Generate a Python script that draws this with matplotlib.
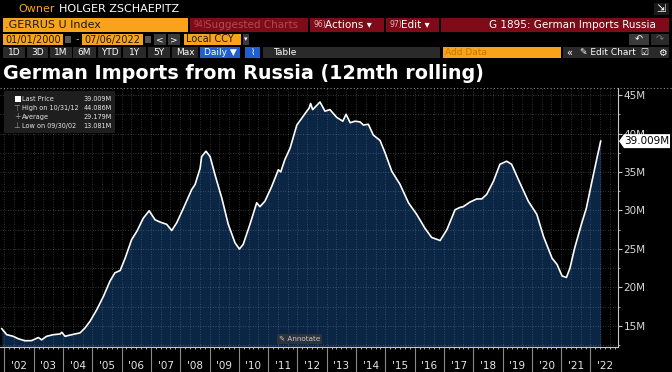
import matplotlib
matplotlib.use('Agg')
import matplotlib.pyplot as plt
from matplotlib.patches import Rectangle, Polygon
from matplotlib.lines import Line2D
from matplotlib.transforms import blended_transform_factory
import numpy as np

# ---------------- data (12-month rolling German imports from Russia, EUR M) -------------
dates = [2001.91, 2002.08, 2002.30, 2002.47, 2002.70, 2002.93, 2003.16, 2003.27, 2003.44,
         2003.67, 2003.90, 2003.96, 2004.07, 2004.30, 2004.58, 2004.75, 2004.92, 2005.15,
         2005.38, 2005.60, 2005.77, 2005.95, 2006.12, 2006.34, 2006.52, 2006.74, 2006.94,
         2007.14, 2007.31, 2007.54, 2007.71, 2007.88, 2008.11, 2008.39, 2008.51, 2008.68,
         2008.73, 2008.88, 2009.02, 2009.19, 2009.42, 2009.64, 2009.87, 2010.02, 2010.15,
         2010.38, 2010.61, 2010.72, 2010.89, 2011.12, 2011.35, 2011.43, 2011.57, 2011.75,
         2011.98, 2012.15, 2012.32, 2012.40, 2012.45, 2012.52, 2012.77, 2012.94, 2013.11,
         2013.34, 2013.55, 2013.66, 2013.80, 2013.97, 2014.14, 2014.25, 2014.42, 2014.59,
         2014.82, 2014.99, 2015.22, 2015.50, 2015.79, 2016.07, 2016.35, 2016.58, 2016.87,
         2017.10, 2017.38, 2017.55, 2017.66, 2017.89, 2018.12, 2018.29, 2018.46, 2018.69,
         2018.91, 2019.14, 2019.31, 2019.59, 2019.88, 2020.17, 2020.40, 2020.69, 2020.86,
         2021.03, 2021.18, 2021.30, 2021.46, 2021.69, 2021.86, 2022.03, 2022.21, 2022.35]
values = [14.65, 13.87, 13.66, 13.35, 13.08, 13.10, 13.50, 13.20, 13.66,
          13.87, 13.96, 14.18, 13.66, 13.87, 14.10, 14.74, 15.60, 17.10,
          18.85, 20.80, 21.90, 22.20, 23.80, 26.20, 27.30, 29.00, 29.97,
          28.80, 28.50, 28.20, 27.40, 28.40, 30.30, 32.70, 33.40, 35.50,
          37.00, 37.70, 37.00, 34.60, 31.60, 28.20, 25.80, 25.00, 25.60,
          28.20, 31.00, 30.50, 31.20, 33.10, 35.30, 35.00, 36.60, 38.10,
          41.10, 42.00, 42.90, 43.30, 43.90, 43.10, 44.09, 42.90, 43.10,
          42.10, 41.60, 42.50, 41.40, 41.60, 41.50, 41.10, 41.20, 39.80,
          39.10, 37.50, 35.10, 33.40, 31.00, 29.50, 27.70, 26.50, 26.10,
          27.50, 30.10, 30.40, 30.50, 31.10, 31.50, 31.50, 32.10, 33.80,
          36.00, 36.40, 36.00, 33.60, 31.20, 29.50, 26.60, 23.80, 23.00,
          21.50, 21.30, 22.50, 25.10, 28.20, 30.30, 33.40, 36.60, 39.01]

y_ticks = [15, 20, 25, 30, 35, 40, 45]
y_tick_labels = ["15M", "20M", "25M", "30M", "35M", "40M", "45M"]
years = list(range(2002, 2023))
year_labels = ["'02", "'03", "'04", "'05", "'06", "'07", "'08", "'09", "'10", "'11", "'12",
               "'13", "'14", "'15", "'16", "'17", "'18", "'19", "'20", "'21", "'22"]

legend_names = ["Last Price", "High on 10/31/12", "Average", "Low on 09/30/02"]
legend_values = ["39.009M", "44.086M", "29.179M", "13.081M"]
last_price_label = "39.009M"
last_price = 39.009

# ---------------- figure ----------------
W, H = 672, 372
fig = plt.figure(figsize=(W / 100, H / 100), dpi=100, facecolor='black')
plt.rcParams['font.family'] = ['DejaVu Sans']


def fx(x):
    return x / W


def fy(y):
    return 1 - y / H


def box(x0, y0, x1, y1, color, z=1, **kw):
    fig.patches.append(Rectangle((fx(x0), fy(y1)), (x1 - x0) / W, (y1 - y0) / H,
                                 transform=fig.transFigure, facecolor=color,
                                 edgecolor='none', zorder=z, **kw))


def txt(x, y, s, color='white', size=7.5, ha='left', va='center', weight='normal', z=5):
    fig.text(fx(x), fy(y), s, color=color, fontsize=size, ha=ha, va=va,
             fontweight=weight, zorder=z)


ORANGE = '#f9a31a'
RED = '#7e0b18'
GREY = '#2a2a2a'

# ---- header row 1
txt(18, 9, "Owner", color=ORANGE, size=8)
txt(59, 9, "HOLGER ZSCHAEPITZ", color='white', size=8)
box(654, 3, 669, 15, '#1a1a1a')
txt(661, 9, "⇲", color='white', size=8, ha='center')

# ---- header row 2
box(3, 18, 188, 32, ORANGE)
txt(5, 25, ".GERRUS U Index", color='#1a1a1a', size=8)
box(190, 18, 308, 32, RED)
txt(193, 25, "94)", color='#b04a55', size=5.5)
txt(205, 25, "Suggested Charts", color='#b04a55', size=7.5)
box(310, 18, 384, 32, RED)
txt(313, 25, "96)", color='#e0b0b5', size=5.5)
txt(325, 25, "Actions ▾", color='white', size=7.5)
box(386, 18, 439, 32, RED)
txt(389, 25, "97)", color='#e0b0b5', size=5.5)
txt(401, 25, "Edit ▾", color='white', size=7.5)
box(441, 18, 669, 32, RED)
txt(572, 25, "G 1895: German Imports Russia", color='white', size=7.5, ha='center')

# ---- header row 3
box(3, 34, 63, 45, ORANGE)
txt(5, 39.5, "01/01/2000", color='#1a1a1a', size=7)
box(65, 36, 71, 43, '#555555')
txt(77, 39.5, "-", color=ORANGE, size=7, ha='center')
box(82, 34, 143, 45, ORANGE)
txt(84, 39.5, "07/06/2022", color='#1a1a1a', size=7)
box(145, 36, 151, 43, '#555555')
box(154, 34, 166, 45, '#3a3a3a')
txt(160, 39.5, "<", color='white', size=6.5, ha='center')
box(168, 34, 180, 45, '#3a3a3a')
txt(174, 39.5, ">", color='white', size=6.5, ha='center')
box(184, 34, 241, 45, ORANGE)
txt(186, 39.5, "Local CCY", color='#1a1a1a', size=7)
box(243, 34, 249, 45, '#3a3a3a')
txt(246, 39.5, "▾", color='white', size=5, ha='center')
box(629, 34, 649, 45, '#3a3a3a')
txt(639, 39.5, "↶", color='white', size=7, ha='center')
box(651, 34, 669, 45, '#2a2a2a')
txt(660, 39.5, "↷", color='#777777', size=7, ha='center')

# ---- header row 4
btns = [(3, 25, "1D"), (27, 48, "3D"), (50, 72, "1M"), (73, 96, "6M"), (98, 121, "YTD"),
        (123, 146, "1Y"), (148, 170, "5Y"), (172, 198, "Max")]
for x0, x1, lab in btns:
    box(x0, 47, x1, 58, GREY)
    txt((x0 + x1) / 2, 52.5, lab, color='white', size=6.5, ha='center')
box(200, 47, 240, 58, '#1f5fd0')
txt(220, 52.5, "Daily ▼", color='white', size=6.5, ha='center')
box(245, 47, 260, 58, '#1f5fd0')
txt(252.5, 52.5, "⌇", color='white', size=6.5, ha='center')
box(263, 47, 440, 58, GREY)
txt(285, 52.5, "Table", color='white', size=6.5, ha='center')
box(443, 47, 561, 58, ORANGE)
txt(445, 52.5, "Add Data", color='#c27a00', size=6.5)
box(563, 47, 669, 58, GREY)
txt(569, 52.5, "«", color='white', size=7, ha='center')
txt(580, 52.5, "✎ Edit Chart", color='white', size=6.5)
txt(644, 52.5, "☑", color='white', size=6.5, ha='center')
txt(662, 52.5, "⚙", color='white', size=7, ha='center')

# ---- title
fig.text(fx(3), fy(79), "German Imports from Russia (12mth rolling)", color='white',
         fontsize=13.8, fontweight='bold', ha='left', va='baseline')

# ---------------- chart axes ----------------
ax = fig.add_axes([0, fy(347), 618 / W, (347 - 88) / H])
ax.set_facecolor('black')
ymin, ymax = 12.27, 45.91
ax.set_xlim(2001.85, 2022.94)
ax.set_ylim(ymin, ymax)

ax.fill_between(dates, values, ymin, color='#0b2545', lw=0, zorder=1)
ax.plot(dates, values, color='white', lw=1.2, zorder=4, solid_joinstyle='round')

# dotted grid
for v in np.arange(12.5, 46, 2.5):
    ax.axhline(v, color='#a0a0a0', lw=0.6, ls=(0, (1, 2)), alpha=0.45, zorder=2)
for v in np.arange(2002, 2023, 1 / 3):
    ax.axvline(v, color='#a0a0a0', lw=0.6, ls=(0, (1, 2)), alpha=0.4, zorder=2)

for s in ['top', 'left']:
    ax.spines[s].set_visible(False)
for s in ['right', 'bottom']:
    ax.spines[s].set_color('#c8c8c8')
    ax.spines[s].set_linewidth(0.8)

ax.yaxis.tick_right()
ax.set_yticks(y_ticks)
ax.set_yticklabels(y_tick_labels)
ax.set_yticks(np.arange(12.5, 46, 2.5), minor=True)
ax.tick_params(axis='y', which='major', direction='out', length=3, width=0.8,
               color='#c8c8c8', labelcolor='#d8d8d8', labelsize=7.5, pad=1)
ax.tick_params(axis='y', which='minor', direction='out', length=1.5, width=0.6,
               color='#c8c8c8')

ax.set_xticks([y + 0.5 for y in years])
ax.set_xticklabels(year_labels)
ax.set_xticks(np.arange(2002, 2023, 1 / 6), minor=True)
ax.tick_params(axis='x', which='major', direction='out', length=1.5, width=0.6,
               color='#c8c8c8', labelcolor='#e8e8e8', labelsize=7.5, pad=8.5)
ax.tick_params(axis='x', which='minor', direction='out', length=1.5, width=0.6,
               color='#c8c8c8')

trans = blended_transform_factory(ax.transData, ax.transAxes)
for y in years:
    ax.add_line(Line2D([y, y], [0, -0.12], transform=trans, color='#8a8a8a', lw=0.8,
                       clip_on=False))

# top dotted border
fig.add_artist(Line2D([0, 1], [fy(88), fy(88)], transform=fig.transFigure,
                      color='#8a8a8a', lw=0.8, ls=(0, (1, 2))))

# ---- legend box
box(4, 91, 115, 133, '#1e1e1e', z=2)
rows = [99, 108, 117, 126]
for r, name, val in zip(rows, legend_names, legend_values):
    txt(22, r, name, color='#e6e6e6', size=4.7)
    txt(112, r, val, color='#e6e6e6', size=4.7, ha='right')
box(14.5, 96, 20.5, 102, 'white', z=3)
fig.add_artist(Line2D([fx(10), fx(10)], [fy(96), fy(127)], transform=fig.transFigure,
                      color='#888888', lw=0.6))
for r in rows:
    fig.add_artist(Line2D([fx(8), fx(12)], [fy(r - 3), fy(r - 3)],
                          transform=fig.transFigure, color='#888888', lw=0.6))
txt(17, 108, "⊤", color='#999999', size=5.5, ha='center')
txt(17, 117, "+", color='#999999', size=5.5, ha='center')
txt(17, 126, "⊥", color='#999999', size=5.5, ha='center')

# ---- last price tag
tag_y = 95 + (45 - last_price) * 7.7
fig.patches.append(Polygon([(fx(619), fy(tag_y)), (fx(624), fy(tag_y - 7)),
                            (fx(670), fy(tag_y - 7)), (fx(670), fy(tag_y + 7)),
                            (fx(624), fy(tag_y + 7))], closed=True,
                           transform=fig.transFigure, facecolor='white',
                           edgecolor='none', zorder=2))
txt(647, tag_y, last_price_label, color='black', size=7.5, ha='center')

# ---- annotate button
box(277, 334, 322, 344, '#2d333d', z=2)
txt(299.5, 339, "✎ Annotate", color='#c8c8c8', size=5.2, ha='center')

fig.savefig('out.png', dpi=100, facecolor='black')
